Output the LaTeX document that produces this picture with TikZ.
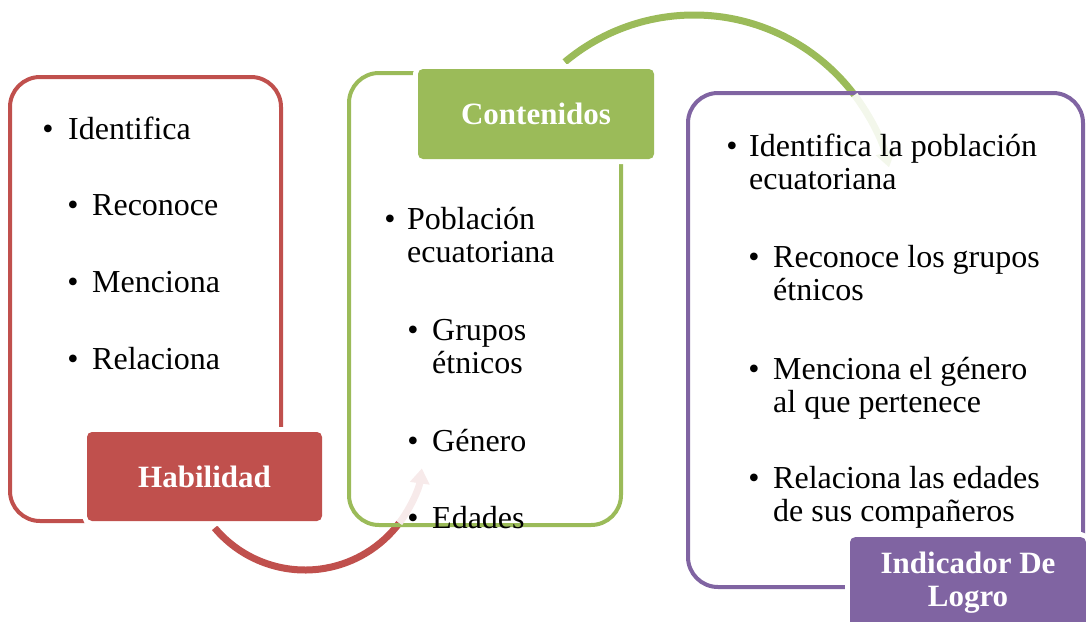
\documentclass[tikz,border=0pt]{standalone}
\usepackage{fontspec}
\setmainfont{Liberation Serif}
\usetikzlibrary{arrows.meta}
\definecolor{rojo}{HTML}{C0504D}
\definecolor{verde}{HTML}{9BBB59}
\definecolor{morado}{HTML}{8064A2}
\tikzstyle{every node}=[inner sep=0pt,font=\fontsize{32}{33}\selectfont]
\tikzstyle{marco}=[line width=4pt,rounded corners=30pt]
\tikzstyle{titulo}=[rounded corners=5pt,text=white,align=center,
    font=\fontsize{31}{33}\selectfont\bfseries,
    preaction={draw=white,line width=10pt}]
\tikzstyle{punto}=[anchor=base]
\tikzstyle{item}=[anchor=base west,align=left]
\tikzstyle{flecha}=[line width=7pt]
\tikzstyle{tenue}=[line width=7pt,-{Triangle[length=15pt,width=19pt]}]

\begin{document}
\begin{tikzpicture}[x=1pt,y=-1pt]
    \useasboundingbox (0,0) rectangle (1086,621);
    \coordinate (rc) at (305,452);
    \coordinate (gc) at (694,216);
    % arcos
    \draw[flecha,rojo] ([shift={(220:118pt)}]rc) arc[start angle=220,end angle=323,radius=118pt];
    \draw[flecha,verde] ([shift={(130:201pt)}]gc) arc[start angle=130,end angle=37,radius=201pt];
    % marcos
    \draw[marco,rojo] (10,77) rectangle (281,521);
    \draw[marco,verde] (349,73) rectangle (621,525);
    \draw[marco,morado] (688,93) rectangle (1083,587);
    \draw[tenue,rojo!12] ([shift={(323:118pt)}]rc) arc[start angle=323,end angle=352,radius=118pt];
    \draw[tenue,verde!12] ([shift={(37:201pt)}]gc) arc[start angle=37,end angle=14,radius=201pt];
    % titulos
    \node[titulo,fill=rojo,minimum width=235pt,minimum height=89pt] (hab) at (204.5,476.5) {Habilidad};
    \node[titulo,fill=verde,minimum width=236pt,minimum height=90pt] (cont) at (536,114) {Contenidos};
    \node[titulo,fill=morado,minimum width=236pt,anchor=north,inner ysep=7pt] (ind) at (968,537)
        {\rule{0pt}{29pt}Indicador De\\Logro\rule[-22pt]{0pt}{0pt}};
    % habilidad
    \node[punto] (hb0) at (48,139) {•};
    \node[item] (ht0) at (68,139) {Identifica};
    \foreach \t/\y [count=\i] in {Reconoce/215,Menciona/292,Relaciona/369} {
        \node[punto] (hb\i) at (73,\y) {•};
        \node[item] (ht\i) at (92,\y) {\t};
    }
    % contenidos (base = ultima linea)
    \node[punto] (cb0) at (390,229) {•};
    \node[item] (ct0) at (407,262) {Población\\ecuatoriana};
    \node[punto] (cb1) at (413,340) {•};
    \node[item] (ct1) at (432,373) {Grupos\\étnicos};
    \node[punto] (cb2) at (413,451) {•};
    \node[item] (ct2) at (432,451) {Género};
    \node[punto] (cb3) at (413,528) {•};
    \node[item] (ct3) at (432,528) {Edades};
    % indicador de logro
    \node[punto] (ib0) at (732,156) {•};
    \node[item] (it0) at (749,189) {Identifica la población\\ecuatoriana};
    \node[punto] (ib1) at (754,267) {•};
    \node[item] (it1) at (773,300) {Reconoce los grupos\\étnicos};
    \node[punto] (ib2) at (754,379) {•};
    \node[item] (it2) at (773,412) {Menciona el género\\al que pertenece};
    \node[punto] (ib3) at (754,488) {•};
    \node[item] (it3) at (773,521) {Relaciona las edades\\de sus compañeros};
\end{tikzpicture}
\end{document}
